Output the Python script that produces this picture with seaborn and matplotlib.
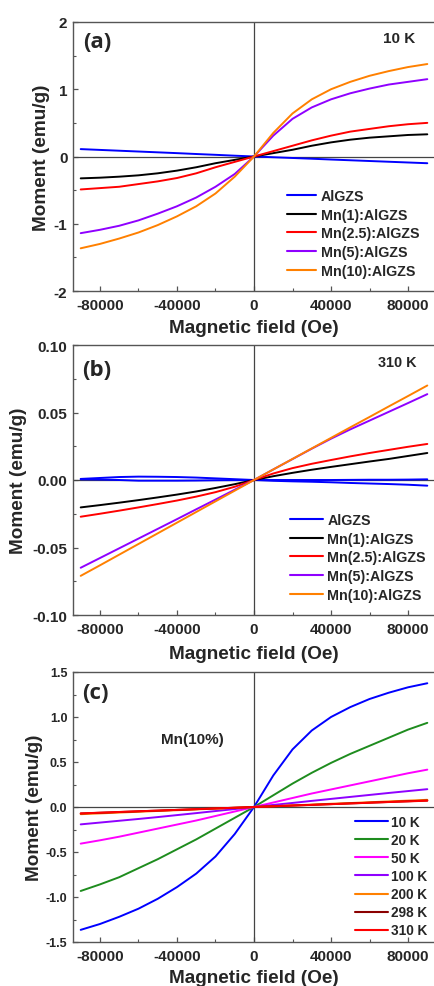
import numpy as np
import pandas as pd
import matplotlib
matplotlib.use("Agg")
import matplotlib.pyplot as plt
from matplotlib.ticker import MultipleLocator, FormatStrFormatter
import seaborn as sns

# ---------------------------------------------------------------- data
FIELD = [-90000, -80000, -70000, -60000, -50000, -40000, -30000, -20000, -10000, 0,
         10000, 20000, 30000, 40000, 50000, 60000, 70000, 80000, 90000]

# (a) M-H at 10 K for the sample series
SAMPLES = ["AlGZS", "Mn(1):AlGZS", "Mn(2.5):AlGZS", "Mn(5):AlGZS", "Mn(10):AlGZS"]
A_ALGZS = [0.110, 0.098, 0.086, 0.074, 0.062, 0.050, 0.037, 0.025, 0.012, 0.0,
           -0.011, -0.022, -0.033, -0.045, -0.056, -0.067, -0.078, -0.089, -0.100]
A_MN1 = [-0.325, -0.315, -0.300, -0.280, -0.250, -0.210, -0.160, -0.100, -0.050, 0.0,
         0.050, 0.100, 0.160, 0.210, 0.250, 0.280, 0.300, 0.320, 0.330]
A_MN25 = [-0.490, -0.470, -0.450, -0.410, -0.370, -0.320, -0.250, -0.160, -0.080, 0.0,
          0.080, 0.160, 0.240, 0.310, 0.370, 0.410, 0.450, 0.480, 0.500]
A_MN5 = [-1.140, -1.090, -1.030, -0.950, -0.850, -0.740, -0.610, -0.450, -0.260, 0.0,
         0.310, 0.560, 0.730, 0.850, 0.940, 1.010, 1.070, 1.110, 1.150]
A_MN10 = [-1.365, -1.300, -1.220, -1.130, -1.020, -0.890, -0.740, -0.550, -0.300, 0.0,
          0.350, 0.640, 0.850, 1.000, 1.110, 1.200, 1.270, 1.330, 1.375]

# (b) M-H at 310 K; the undoped sample shows two sweep branches
B_ALGZS_UP = [0.0005, 0.0003, 0.0, -0.0005, -0.0005, -0.0005, -0.0004, -0.0002, -0.0001, 0.0,
              0.0, 0.0, 0.0, 0.0, 0.0001, 0.0002, 0.0002, 0.0003, 0.0005]
B_ALGZS_DOWN = [0.0008, 0.0015, 0.0022, 0.0025, 0.0024, 0.0022, 0.0018, 0.0012, 0.0006, 0.0,
                -0.0006, -0.0010, -0.0013, -0.0017, -0.0022, -0.0026, -0.0030, -0.0035, -0.0042]
B_MN1 = [-0.0203, -0.0186, -0.0168, -0.0149, -0.0129, -0.0108, -0.0085, -0.0059, -0.0031, 0.0,
         0.0028, 0.0053, 0.0076, 0.0097, 0.0117, 0.0137, 0.0156, 0.0178, 0.0200]
B_MN25 = [-0.0272, -0.0250, -0.0227, -0.0203, -0.0178, -0.0152, -0.0123, -0.0090, -0.0050, 0.0,
          0.0048, 0.0088, 0.0120, 0.0148, 0.0175, 0.0200, 0.0223, 0.0246, 0.0267]
B_MN5 = [-0.0650, -0.0578, -0.0506, -0.0434, -0.0362, -0.0290, -0.0217, -0.0145, -0.0072, 0.0,
         0.0078, 0.0155, 0.0232, 0.0306, 0.0375, 0.0440, 0.0505, 0.0570, 0.0636]
B_MN10 = [-0.0710, -0.0632, -0.0553, -0.0474, -0.0395, -0.0316, -0.0237, -0.0158, -0.0079, 0.0,
          0.0078, 0.0156, 0.0234, 0.0312, 0.0390, 0.0467, 0.0545, 0.0622, 0.0700]

# (c) Mn(10%) sample at several temperatures
TEMPS = ["10 K", "20 K", "50 K", "100 K", "200 K", "298 K", "310 K"]
C_10K = [-1.365, -1.300, -1.220, -1.130, -1.020, -0.890, -0.740, -0.550, -0.300, 0.0,
         0.350, 0.640, 0.850, 1.000, 1.110, 1.200, 1.270, 1.330, 1.375]
C_20K = [-0.933, -0.860, -0.780, -0.680, -0.580, -0.470, -0.360, -0.240, -0.120, 0.0,
         0.130, 0.260, 0.380, 0.490, 0.590, 0.680, 0.770, 0.860, 0.935]
C_50K = [-0.407, -0.370, -0.330, -0.285, -0.240, -0.195, -0.150, -0.100, -0.050, 0.0,
         0.050, 0.100, 0.150, 0.195, 0.240, 0.285, 0.330, 0.375, 0.415]
C_100K = [-0.193, -0.173, -0.153, -0.133, -0.112, -0.090, -0.068, -0.045, -0.023, 0.0,
          0.023, 0.045, 0.068, 0.090, 0.112, 0.134, 0.156, 0.177, 0.198]
C_200K = [-0.080, -0.071, -0.062, -0.053, -0.044, -0.036, -0.027, -0.018, -0.009, 0.0,
          0.009, 0.018, 0.027, 0.036, 0.044, 0.053, 0.062, 0.071, 0.080]
C_298K = [-0.072, -0.064, -0.056, -0.048, -0.040, -0.032, -0.024, -0.016, -0.008, 0.0,
          0.008, 0.016, 0.024, 0.032, 0.040, 0.048, 0.056, 0.064, 0.072]
C_310K = [-0.071, -0.063, -0.055, -0.047, -0.040, -0.032, -0.024, -0.016, -0.008, 0.0,
          0.008, 0.016, 0.023, 0.031, 0.039, 0.047, 0.055, 0.062, 0.070]

SAMPLE_COLORS = ["#0000FF", "#000000", "#FF0000", "#8F00FF", "#FF8000"]
TEMP_COLORS = ["#0000FF", "#1E8C1E", "#FF00FF", "#8F00FF", "#FF8000", "#8B0000", "#FF0000"]


def long_table(names, curves, key):
    rows = []
    for name, branches in zip(names, curves):
        for b, values in enumerate(branches):
            for h, m in zip(FIELD, values):
                rows.append({"field": h, "moment": m, key: name, "branch": f"{name}-{b}"})
    return pd.DataFrame(rows)


df_a = long_table(SAMPLES, [[A_ALGZS], [A_MN1], [A_MN25], [A_MN5], [A_MN10]], "sample")
df_b = long_table(SAMPLES, [[B_ALGZS_UP, B_ALGZS_DOWN], [B_MN1], [B_MN25], [B_MN5], [B_MN10]], "sample")
df_c = long_table(TEMPS, [[C_10K], [C_20K], [C_50K], [C_100K], [C_200K], [C_298K], [C_310K]], "temp")

# ---------------------------------------------------------------- style
sns.set_style("ticks")
plt.rcParams["font.family"] = ["Liberation Sans", "DejaVu Sans"]
plt.rcParams["font.weight"] = "bold"
plt.rcParams["axes.labelweight"] = "bold"
plt.rcParams["axes.unicode_minus"] = False

W, H = 435, 987
fig = plt.figure(figsize=(W / 100, H / 100), dpi=100)


def px_axes(top, bottom, left=73, right=435):
    return fig.add_axes([left / W, 1 - bottom / H, (right - left) / W, (bottom - top) / H])


def style_axes(ax, ylim, ymajor, yminor, yfmt, ysize, ylab_x, xlab_y):
    ax.set_xlim(-94000, 94000)
    ax.set_ylim(*ylim)
    ax.axhline(0, color="#444444", lw=0.9, zorder=1)
    ax.axvline(0, color="#444444", lw=0.9, zorder=1)
    ax.xaxis.set_major_locator(MultipleLocator(40000))
    ax.xaxis.set_minor_locator(MultipleLocator(20000))
    ax.yaxis.set_major_locator(MultipleLocator(ymajor))
    ax.yaxis.set_minor_locator(MultipleLocator(yminor))
    ax.xaxis.set_major_formatter(FormatStrFormatter("%d"))
    ax.yaxis.set_major_formatter(FormatStrFormatter(yfmt))
    ax.tick_params(axis="both", which="both", direction="in", color="#555555",
                   top=False, right=False)
    ax.tick_params(axis="both", which="major", length=3.5, width=0.9, pad=4)
    ax.tick_params(axis="both", which="minor", length=2, width=0.8)
    ax.tick_params(axis="x", labelsize=11, pad=5)
    ax.tick_params(axis="y", labelsize=ysize)
    for lab in ax.get_xticklabels() + ax.get_yticklabels():
        lab.set_fontweight("bold")
    for side in ("left", "bottom", "top"):
        ax.spines[side].set_color("#555555")
        ax.spines[side].set_linewidth(1.0)
    ax.spines["right"].set_visible(False)
    ax.set_xlabel("Magnetic field (Oe)", fontsize=13.7, fontweight="bold")
    ax.set_ylabel("Moment (emu/g)", fontsize=13.7, fontweight="bold")
    ax.xaxis.set_label_coords(0.5, xlab_y)
    ax.yaxis.set_label_coords(ylab_x, 0.5)


def place_legend(ax, x_px, top_px, size, hlen, pad, spacing):
    sns.move_legend(ax, "upper left", bbox_to_anchor=(x_px / W, 1 - top_px / H),
                    bbox_transform=fig.transFigure, frameon=False, title=None,
                    fontsize=size, handlelength=hlen, handletextpad=pad,
                    labelspacing=spacing, borderpad=0, borderaxespad=0)
    leg = ax.get_legend()
    for t in leg.get_texts():
        t.set_fontweight("bold")
    for h in leg.get_lines():
        h.set_linewidth(1.5)


# ---------------------------------------------------------------- (a)
ax_a = px_axes(23, 292)
sns.lineplot(data=df_a, x="field", y="moment", hue="sample", hue_order=SAMPLES,
             palette=SAMPLE_COLORS, units="branch", estimator=None, sort=False,
             lw=1.4, ax=ax_a, zorder=3)
style_axes(ax_a, (-2, 2), 1, 0.5, "%d", 11, -0.064, -0.104)
place_legend(ax_a, 287, 190, 10.3, 2.05, 0.3, 0.33)
ax_a.text(0.066, 0.926, "(a)", transform=ax_a.transAxes, fontsize=16, fontweight="bold",
          family=["Open Sans", "DejaVu Sans"], ha="center", va="center")
ax_a.text(0.90, 0.94, "10 K", transform=ax_a.transAxes, fontsize=11, fontweight="bold",
          ha="center", va="center")

# ---------------------------------------------------------------- (b)
ax_b = px_axes(346, 616)
sns.lineplot(data=df_b, x="field", y="moment", hue="sample", hue_order=SAMPLES,
             palette=SAMPLE_COLORS, units="branch", estimator=None, sort=False,
             lw=1.4, ax=ax_b, zorder=3)
style_axes(ax_b, (-0.10, 0.10), 0.05, 0.025, "%.2f", 11, -0.127, -0.111)
place_legend(ax_b, 290, 514, 10.3, 2.3, 0.3, 0.33)
ax_b.text(0.066, 0.91, "(b)", transform=ax_b.transAxes, fontsize=16, fontweight="bold",
          family=["Open Sans", "DejaVu Sans"], ha="center", va="center")
ax_b.text(0.895, 0.937, "310 K", transform=ax_b.transAxes, fontsize=10.4, fontweight="bold",
          ha="center", va="center")

# ---------------------------------------------------------------- (c)
ax_c = px_axes(673, 943)
sns.lineplot(data=df_c, x="field", y="moment", hue="temp", hue_order=TEMPS,
             palette=TEMP_COLORS, units="branch", estimator=None, sort=False,
             lw=1.4, ax=ax_c, zorder=3)
style_axes(ax_c, (-1.5, 1.5), 0.5, 0.25, "%.1f", 9, -0.083, -0.10)
place_legend(ax_c, 355, 816, 9.8, 2.4, 0.22, 0.3)
ax_c.text(0.062, 0.925, "(c)", transform=ax_c.transAxes, fontsize=16, fontweight="bold",
          family=["Open Sans", "DejaVu Sans"], ha="center", va="center")
ax_c.text(0.329, 0.752, "Mn(10%)", transform=ax_c.transAxes, fontsize=11, fontweight="bold",
          ha="center", va="center")

fig.savefig("out.png", dpi=100)
